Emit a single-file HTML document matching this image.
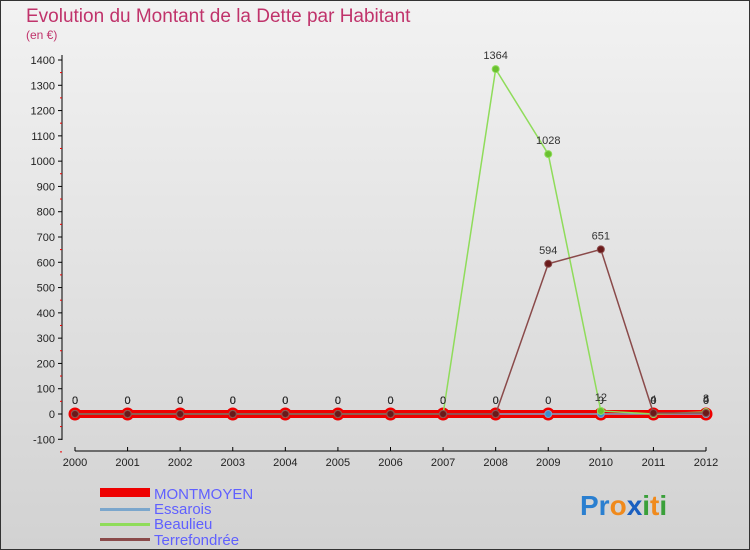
<!DOCTYPE html>
<html><head><meta charset="utf-8"><style>
body{margin:0}
svg{display:block;font-family:"Liberation Sans",sans-serif}
</style></head><body>
<svg id="chart" width="750" height="550">
<defs><linearGradient id="bg" x1="0" y1="0" x2="0" y2="1"><stop offset="0" stop-color="#f2f2f2"/><stop offset="1" stop-color="#d2d2d2"/></linearGradient></defs>
<rect x="0.5" y="0.5" width="749" height="549" fill="url(#bg)" stroke="#333"/>
<text x="26" y="22" font-size="19" fill="#c0336b">Evolution du Montant de la Dette par Habitant</text>
<text x="26" y="39" font-size="12" fill="#c0336b">(en €)</text>
<g id="axes"></g><g id="series"></g>
<g>
<rect x="100" y="488" width="50" height="9" fill="#e00"/>
<text x="154" y="499" font-size="15" fill="#6060ff">MONTMOYEN</text>
<rect x="100" y="508" width="50" height="3" fill="#7ba6cc"/>
<text x="154" y="514" font-size="15" fill="#6060ff">Essarois</text>
<rect x="100" y="523" width="50" height="3" fill="#8fdc5a"/>
<text x="154" y="529" font-size="15" fill="#6060ff">Beaulieu</text>
<rect x="100" y="538" width="50" height="3" fill="#8a4a4a"/>
<text x="154" y="545" font-size="15" fill="#6060ff">Terrefondrée</text>
</g>
<text x="580" y="515" font-size="28" font-weight="bold"><tspan fill="#2a7fd0">Pr</tspan><tspan fill="#f08a1c">o</tspan><tspan fill="#1a5fc0">x</tspan><tspan fill="#3aa03a">i</tspan><tspan fill="#f08a1c">t</tspan><tspan fill="#3aa03a">i</tspan></text>
</svg>
<script>
const years=[2000,2001,2002,2003,2004,2005,2006,2007,2008,2009,2010,2011,2012];
const yTicks=[-100,0,100,200,300,400,500,600,700,800,900,1000,1100,1200,1300,1400];
const montmoyen=[0,0,0,0,0,0,0,0,0,0,0,0,0];
const essarois=[0,0,0,0,0,0,0,0,0,0,0,0,0];
const beaulieu=[0,0,0,0,0,0,0,0,1364,1028,12,0,8];
const terrefondree=[0,0,0,0,0,0,0,0,0,594,651,4,4];
const NS='http://www.w3.org/2000/svg';
const xS=i=>75+i*(706-75)/12;
const yS=v=>414-v*(354/1400);
function mk(t,a,p){const e=document.createElementNS(NS,t);for(const k in a)e.setAttribute(k,a[k]);p.appendChild(e);return e;}
const ax=document.getElementById('axes');
mk('line',{x1:62,y1:55,x2:62,y2:440,stroke:'#000'},ax);
mk('line',{x1:75,y1:451,x2:706,y2:451,stroke:'#000'},ax);
yTicks.forEach(v=>{const y=yS(v);
mk('line',{x1:58,y1:y,x2:62,y2:y,stroke:'#000'},ax);
mk('line',{x1:60,y1:y+12.6,x2:62,y2:y+12.6,stroke:'#e00'},ax);
const t=mk('text',{x:55,y:y+4,'font-size':11,'text-anchor':'end',fill:'#222'},ax);t.textContent=v;

});
years.forEach((yr,i)=>{const x=xS(i);
mk('line',{x1:x,y1:447,x2:x,y2:451,stroke:'#000'},ax);
const t=mk('text',{x:x,y:466,'font-size':11,'text-anchor':'middle',fill:'#222'},ax);t.textContent=yr;

});
const sg=document.getElementById('series');
function draw(vals,col,w,name,r,fillc){
const pts=vals.map((v,i)=>xS(i)+','+yS(v)).join(' ');
const l=mk('polyline',{points:pts,fill:'none',stroke:col,'stroke-width':w},sg);


vals.forEach((v,i)=>{const c=mk('circle',{cx:xS(i),cy:yS(v),r:r,fill:fillc,stroke:col},sg);


const t=mk('text',{x:xS(i),y:yS(v)-10,'font-size':11,'text-anchor':'middle',fill:'#333'},sg);t.textContent=v;

});}
draw(montmoyen,'#ee0000',8,'montmoyen',6,'#ee0000');
draw(essarois,'#7ba6cc',1.5,'essarois',3.5,'#3a8fd0');
draw(beaulieu,'#8fdc5a',1.5,'beaulieu',3.5,'#6ac030');
draw(terrefondree,'#8a4a4a',1.5,'terrefondree',3.5,'#6a1a1a');
</script>
</body></html>
